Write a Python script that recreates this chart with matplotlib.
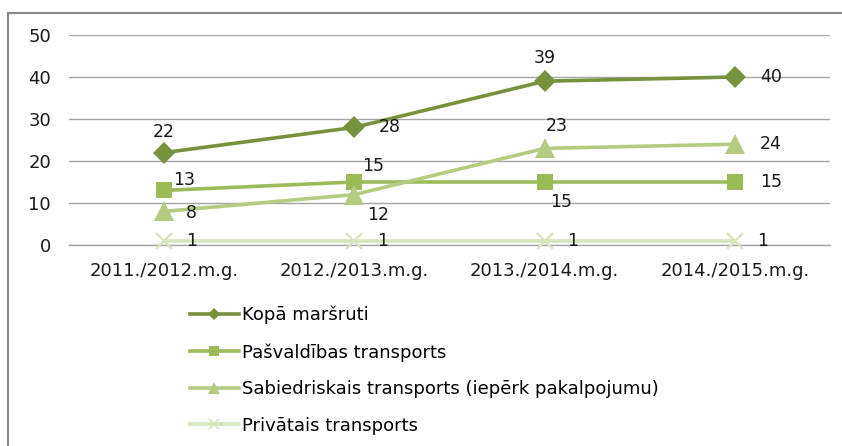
import matplotlib.pyplot as plt
from matplotlib.patches import Rectangle

plt.rcParams['font.family'] = ['DejaVu Sans']

# data
years = ['2011./2012.m.g.', '2012./2013.m.g.', '2013./2014.m.g.', '2014./2015.m.g.']
kopa = [22, 28, 39, 40]
pasvaldibas = [13, 15, 15, 15]
sabiedriskais = [8, 12, 23, 24]
privatais = [1, 1, 1, 1]

names = ['Kopā maršruti', 'Pašvaldības transports',
         'Sabiedriskais transports (iepērk pakalpojumu)', 'Privātais transports']

# label centre offsets in pixels (dx, dy) relative to the marker
off_kopa = [(0, 21), (35, 0), (0, 23), (36, 0)]
off_pasv = [(20, 10), (19, 16), (17, -20), (36, 0)]
off_sab = [(27, -2), (24, -20), (12, 22), (36, 0)]
off_priv = [(28, 0), (28, 0), (28, 0), (28, 0)]

fig = plt.figure(figsize=(8.42, 4.46), dpi=100)
ax = fig.add_axes([69 / 842, 1 - 245 / 446, (830 - 69) / 842, 210 / 446])

x = list(range(len(years)))
series = [
    (kopa, '#76923C', 'D', 11, off_kopa),
    (pasvaldibas, '#9BBB59', 's', 12, off_pasv),
    (sabiedriskais, '#B3CC82', '^', 14, off_sab),
    (privatais, '#D7E4BD', 'x', 11, off_priv),
]

for (vals, col, mk, ms, offs), name in zip(series, names):
    ax.plot(x, vals, color=col, lw=2.6, marker=mk, ms=ms,
            mew=1.6 if mk == 'x' else 0, mec=col, label=name,
            zorder=3, clip_on=False)
    for xi, v, (dx, dy) in zip(x, vals, offs):
        ax.annotate(str(v), (xi, v), xytext=(dx * 0.72, dy * 0.72),
                    textcoords='offset points', ha='center', va='center',
                    fontsize=12.5, color='#1a1a1a', zorder=4)

ax.set_xlim(-0.5, 3.5)
ax.set_ylim(0, 50)
ax.set_yticks(range(0, 51, 10))
ax.set_xticks(x)
ax.set_xticklabels(years)
ax.yaxis.grid(True, color='#A6A6A6', lw=1)
ax.axhline(0, color='#A6A6A6', lw=1, zorder=1, clip_on=False)
ax.set_axisbelow(True)
for s in ax.spines.values():
    s.set_visible(False)
ax.tick_params(length=0, labelsize=13, colors='#1a1a1a')
ax.tick_params(axis='y', pad=13)
ax.tick_params(axis='x', pad=12)

# legend
small = []
for (vals, col, mk, ms, offs) in series:
    h, = ax.plot([], [], color=col, lw=2.6, marker=mk, ms=ms * 0.6,
                 mew=1.2 if mk == 'x' else 0, mec=col)
    small.append(h)
leg = fig.legend(small, names, loc='upper left',
                 bbox_to_anchor=(190 / 842, 1 - 306 / 446),
                 frameon=False, fontsize=13, handlelength=2.7,
                 handletextpad=0.2, labelspacing=1.03, borderaxespad=0,
                 borderpad=0)

# outer border
fig.add_artist(Rectangle((8 / 842, -0.05), 1.0, 1 - 13 / 446 + 0.05,
                         transform=fig.transFigure, fill=False,
                         edgecolor='#868686', lw=1.5))

fig.savefig('out.png', dpi=100)
